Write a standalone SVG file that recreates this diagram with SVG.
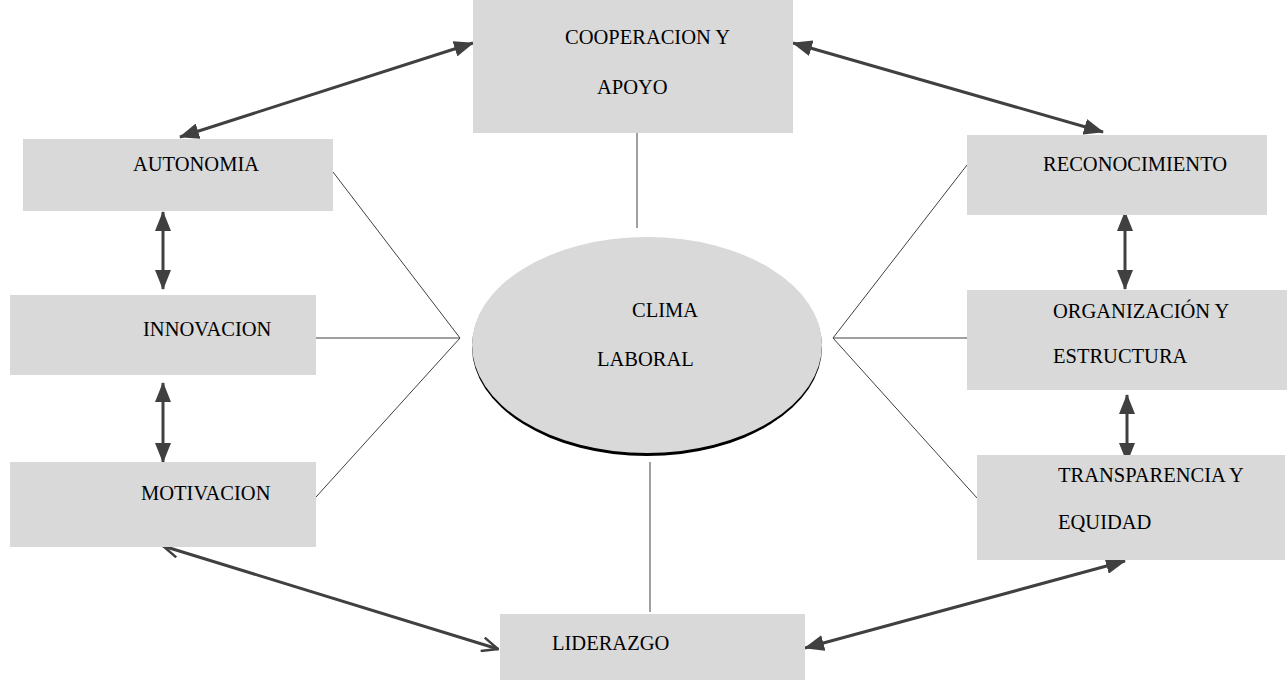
<svg xmlns="http://www.w3.org/2000/svg" width="1288" height="680" viewBox="0 0 1288 680">
<style>
.box{fill:#d9d9d9;}
text{font-family:'Liberation Serif','Times New Roman','DejaVu Serif',serif;font-size:20.5px;fill:#000;}
.thin{stroke:#404040;stroke-width:1;fill:none;}
.arr{stroke:#404040;stroke-width:3;fill:none;marker-start:url(#ah);marker-end:url(#ah);}
.open{stroke:#404040;stroke-width:3;fill:none;marker-start:url(#oh);marker-end:url(#oh);}
</style>
<defs>
<marker id="ah" markerUnits="userSpaceOnUse" viewBox="0 0 20 16" refX="19" refY="8" markerWidth="20" markerHeight="16" orient="auto-start-reverse">
<path d="M0,0 L20,8 L0,16 Z" fill="#404040"/>
</marker>
<marker id="oh" markerUnits="userSpaceOnUse" viewBox="0 0 18 16" refX="17" refY="8" markerWidth="18" markerHeight="16" orient="auto-start-reverse">
<path d="M1,1 L17,8 L1,15" fill="none" stroke="#404040" stroke-width="2.5"/>
</marker>
</defs>
<rect width="1288" height="680" fill="#fff"/>
<g id="connectors">
<line class="thin" x1="637" y1="133" x2="637" y2="228"/>
<line class="thin" x1="650" y1="462" x2="650" y2="612"/>
<line class="thin" x1="333" y1="172" x2="460" y2="338"/>
<line class="thin" x1="316" y1="338" x2="460" y2="338"/>
<line class="thin" x1="316" y1="497" x2="460" y2="338"/>
<line class="thin" x1="967" y1="165" x2="833" y2="338"/>
<line class="thin" x1="833" y1="338" x2="967" y2="338"/>
<line class="thin" x1="833" y1="338" x2="977" y2="498"/>
<line class="arr" x1="180" y1="137" x2="473" y2="43"/>
<line class="arr" x1="793" y1="43" x2="1103" y2="132"/>
<line class="arr" x1="163" y1="212" x2="163" y2="289"/>
<line class="arr" x1="163" y1="383" x2="163" y2="462"/>
<line class="arr" x1="1125" y1="212" x2="1125" y2="289"/>
<line class="arr" x1="1127" y1="395" x2="1127" y2="462"/>
<line class="open" x1="163" y1="546" x2="498" y2="649"/>
<line class="arr" x1="805" y1="648" x2="1125" y2="561"/>
</g>
<g id="cooperacion">
<rect class="box" x="473" y="0" width="320" height="133"/>
<text x="565" y="44">COOPERACION Y</text>
<text x="597" y="94">APOYO</text>
</g>
<g id="autonomia">
<rect class="box" x="23" y="139" width="310" height="72"/>
<text x="133" y="171">AUTONOMIA</text>
</g>
<g id="reconocimiento">
<rect class="box" x="967" y="135" width="300" height="80"/>
<text x="1043" y="171">RECONOCIMIENTO</text>
</g>
<g id="innovacion">
<rect class="box" x="10" y="295" width="306" height="80"/>
<text x="143" y="336">INNOVACION</text>
</g>
<g id="motivacion">
<rect class="box" x="10" y="462" width="306" height="85"/>
<text x="141" y="500">MOTIVACION</text>
</g>
<g id="organizacion">
<rect class="box" x="967" y="290" width="320" height="100"/>
<text x="1053" y="318">ORGANIZACIÓN Y</text>
<text x="1053" y="363">ESTRUCTURA</text>
</g>
<g id="transparencia">
<rect class="box" x="977" y="455" width="308" height="105"/>
<text x="1058" y="482">TRANSPARENCIA Y</text>
<text x="1058" y="529">EQUIDAD</text>
</g>
<g id="liderazgo">
<rect class="box" x="500" y="614" width="305" height="66"/>
<text x="552" y="650">LIDERAZGO</text>
</g>
<g id="clima">
<ellipse cx="647" cy="347" rx="175" ry="109" fill="#000"/>
<ellipse cx="647" cy="345" rx="175" ry="108" fill="#d9d9d9"/>
<text x="632" y="317">CLIMA</text>
<text x="597" y="366">LABORAL</text>
</g>
</svg>
